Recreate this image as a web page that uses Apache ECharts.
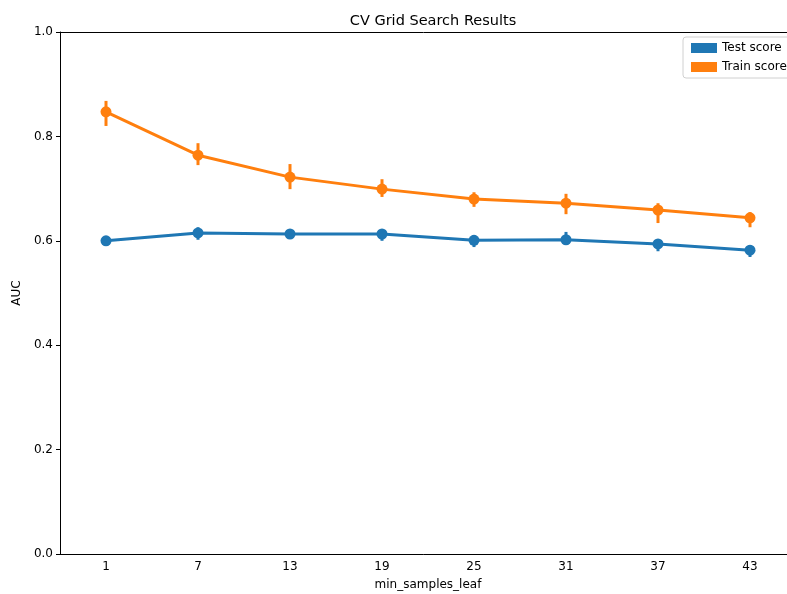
<!DOCTYPE html>
<html><head><meta charset="utf-8">
<script src="https://cdn.jsdelivr.net/npm/echarts@6/dist/echarts.min.js"></script>
<style>html,body{margin:0;padding:0;background:#fff}#c{width:787px;height:594px}</style>
</head><body><div id="c"></div>
<script>
const categories = ['1','7','13','19','25','31','37','43'];
const testScore = [0.600, 0.615, 0.613, 0.613, 0.601, 0.602, 0.594, 0.582];
const testLow   = [0.590, 0.602, 0.604, 0.600, 0.588, 0.592, 0.580, 0.569];
const testHigh  = [0.609, 0.626, 0.620, 0.622, 0.611, 0.617, 0.603, 0.592];
const trainScore = [0.847, 0.764, 0.722, 0.699, 0.680, 0.672, 0.659, 0.644];
const trainLow   = [0.820, 0.745, 0.699, 0.684, 0.665, 0.651, 0.634, 0.626];
const trainHigh  = [0.868, 0.787, 0.747, 0.718, 0.693, 0.690, 0.672, 0.655];
const yTicks = [0, 0.2, 0.4, 0.6, 0.8, 1.0];

const BLUE = '#1f77b4', ORANGE = '#ff7f0e';
const FONT = 'DejaVu Sans';

function errSeries(name, low, high, color) {
  return {
    type: 'custom', name: name + ' err', silent: true, z: 3,
    data: low.map((l, i) => [i, l, high[i]]),
    renderItem: function (params, api) {
      const a = api.coord([api.value(0), api.value(1)]);
      const b = api.coord([api.value(0), api.value(2)]);
      return { type: 'line', shape: { x1: a[0], y1: a[1], x2: b[0], y2: b[1] },
               style: { stroke: color, lineWidth: 3 } };
    }
  };
}

const chart = echarts.init(document.getElementById('c'), null, { renderer: 'canvas' });
chart.setOption({
  animation: false,
  textStyle: { fontFamily: FONT },
  title: { text: 'CV Grid Search Results', left: 428, top: 9, textAlign: 'center',
           textStyle: { fontFamily: FONT, fontSize: 14.5, fontWeight: 'normal', color: '#000' } },
  legend: {
    data: [{ name: 'Test score' }, { name: 'Train score' }],
    left: 683, top: 37, orient: 'vertical', icon: 'rect', itemWidth: 26, itemHeight: 10,
    itemGap: 7, padding: [5, 10, 5, 8], borderColor: '#d0d0d0', borderWidth: 1, borderRadius: 3,
    textStyle: { fontFamily: FONT, fontSize: 12, color: '#000' }
  },
  grid: { left: 60, top: 32, width: 736, height: 522, containLabel: false, outerBoundsMode: 'none' },
  xAxis: {
    type: 'category', data: categories, boundaryGap: true,
    name: 'min_samples_leaf', nameLocation: 'middle', nameGap: 25,
    nameTextStyle: { fontFamily: FONT, fontSize: 12, color: '#000' },
    axisLine: { lineStyle: { color: '#000', width: 1 } },
    axisTick: { alignWithLabel: true, length: 4, lineStyle: { color: '#000' } },
    axisLabel: { fontFamily: FONT, fontSize: 12, color: '#000', margin: 7 },
    splitLine: { show: false }
  },
  yAxis: {
    type: 'value', min: 0, max: 1, interval: 0.2,
    name: 'AUC', nameLocation: 'middle', nameGap: 36,
    nameTextStyle: { fontFamily: FONT, fontSize: 12, color: '#000' },
    axisLine: { show: true, lineStyle: { color: '#000', width: 1 } },
    axisTick: { show: true, length: 4, lineStyle: { color: '#000' } },
    axisLabel: { fontFamily: FONT, fontSize: 12, color: '#000', margin: 7,
                 formatter: v => yTicks.includes(+v.toFixed(1)) ? v.toFixed(1) : '' },
    splitLine: { show: false }
  },
  graphic: [{ type: 'line', shape: { x1: 60, y1: 32.5, x2: 787, y2: 32.5 },
              style: { stroke: '#000', lineWidth: 1 }, z: 10 }],
  series: [
    errSeries('Test score', testLow, testHigh, BLUE),
    errSeries('Train score', trainLow, trainHigh, ORANGE),
    { name: 'Test score', type: 'line', data: testScore, z: 4,
      symbol: 'circle', symbolSize: 11, itemStyle: { color: BLUE },
      lineStyle: { color: BLUE, width: 3 } },
    { name: 'Train score', type: 'line', data: trainScore, z: 4,
      symbol: 'circle', symbolSize: 11, itemStyle: { color: ORANGE },
      lineStyle: { color: ORANGE, width: 3 } }
  ]
});
</script></body></html>
